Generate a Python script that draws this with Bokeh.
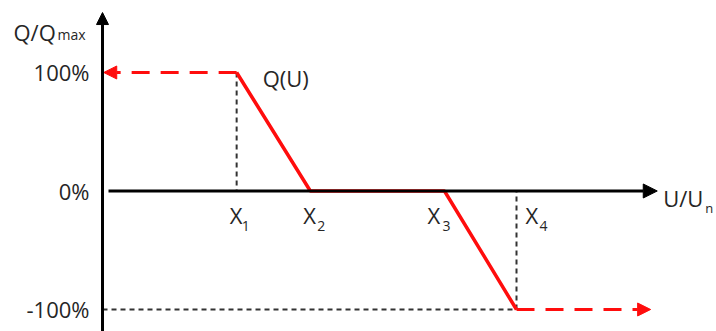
from bokeh.plotting import figure
from bokeh.models import Range1d, Arrow, NormalHead
from bokeh.core.properties import value
from bokeh.embed import file_html
from bokeh.resources import INLINE

# ---- data ----
x_points = [0.324, 0.502, 0.826, 1.0]      # X1..X4 on the U/Un axis (relative units)
q_values = [100, 0, 0, -100]               # Q/Qmax in %
x_names = ["X", "X", "X", "X"]
x_subs = ["1", "2", "3", "4"]
y_ticks = [100, 0, -100]
y_tick_labels = ["100%", "0%", "-100%"]
curve_label = "Q(U)"
y_title_main, y_title_sub = "Q/Q", "max"
x_title_main, x_title_sub = "U/U", "n"

# axis extents (arrow tips)
x_axis_end = 1.34
y_axis_top = 150.6
x_axis_start = 0.0145
y_axis_bottom = -125

FONT = value("Open Sans")
TXT = "#262626"
RED = "#ff0d0d"
GREY = "#333333"

p = figure(width=716, height=331, output_backend="svg", toolbar_location=None,
           x_range=Range1d(-0.2464, 1.4831), y_range=Range1d(-118.57, 160.76),
           x_axis_type=None, y_axis_type=None, min_border=0,
           outline_line_color=None, background_fill_color="white")
p.grid.visible = False

# grey dashed guide lines
gx0 = [x_points[0], x_points[-1], 0]
gy0 = [q_values[0], q_values[-1], q_values[-1]]
gx1 = [x_points[0], x_points[-1], x_points[-1]]
gy1 = [0, 0, q_values[-1]]
p.segment(x0=gx0, y0=gy0, x1=gx1, y1=gy1, line_color=GREY, line_width=2,
          line_dash="5 4")

# x axis with arrow
p.add_layout(Arrow(end=NormalHead(size=14, fill_color="black", line_color="black", line_width=1),
                   x_start=x_axis_start, y_start=0, x_end=x_axis_end, y_end=0,
                   line_width=3, line_color="black"))

# Q(U) characteristic
p.line(x_points, q_values, line_color=RED, line_width=3.5)

# red dashed continuations
p.add_layout(Arrow(end=NormalHead(size=13, fill_color=RED, line_color=RED, line_width=1),
                   x_start=x_points[0], y_start=q_values[0], x_end=0.003, y_end=q_values[0],
                   line_width=3, line_color=RED, line_dash="18 11"))
p.add_layout(Arrow(end=NormalHead(size=13, fill_color=RED, line_color=RED, line_width=1),
                   x_start=x_points[-1], y_start=q_values[-1], x_end=1.324, y_end=q_values[-1],
                   line_width=3, line_color=RED, line_dash="18 11"))

# y axis with arrow
p.add_layout(Arrow(end=NormalHead(size=12, fill_color="black", line_color="black", line_width=1),
                   x_start=0, y_start=y_axis_bottom, x_end=0, y_end=y_axis_top,
                   line_width=3, line_color="black"))

# y tick labels
p.text(x=[0] * len(y_ticks), y=y_ticks, text=y_tick_labels, x_offset=-13,
       text_align="right", text_baseline="middle", text_font=FONT,
       text_font_size="22px", text_color=TXT)

# X labels with subscripts
p.text(x=x_points, y=[0] * 4, text=x_names, x_offset=[-7, -7, -17, 9], y_offset=24,
       text_align="left", text_baseline="alphabetic", text_font=FONT,
       text_font_size="22px", text_color=TXT)
p.text(x=x_points, y=[0] * 4, text=x_subs, x_offset=[5, 7, -2, 23], y_offset=35,
       text_align="left", text_baseline="alphabetic", text_font=FONT,
       text_font_size="14px", text_color=TXT)

# curve label
p.text(x=[x_points[0]], y=[q_values[0]], text=[curve_label], x_offset=26, y_offset=6,
       text_align="left", text_baseline="alphabetic", text_font=FONT,
       text_font_size="22px", text_color=TXT)

# y axis title
p.text(x=[0], y=[y_axis_top], text=[y_title_main], x_offset=-89, y_offset=19,
       text_align="left", text_baseline="alphabetic", text_font=FONT,
       text_font_size="22px", text_color=TXT)
p.text(x=[0], y=[y_axis_top], text=[y_title_sub], x_offset=-45, y_offset=22,
       text_align="left", text_baseline="alphabetic", text_font=FONT,
       text_font_size="14px", text_color=TXT)

# x axis title
p.text(x=[x_axis_end], y=[0], text=[x_title_main], x_offset=6, y_offset=7,
       text_align="left", text_baseline="alphabetic", text_font=FONT,
       text_font_size="22px", text_color=TXT)
p.text(x=[x_axis_end], y=[0], text=[x_title_sub], x_offset=48, y_offset=17,
       text_align="left", text_baseline="alphabetic", text_font=FONT,
       text_font_size="13px", text_color=TXT)

open("out.html", "w").write(file_html(p, INLINE))
